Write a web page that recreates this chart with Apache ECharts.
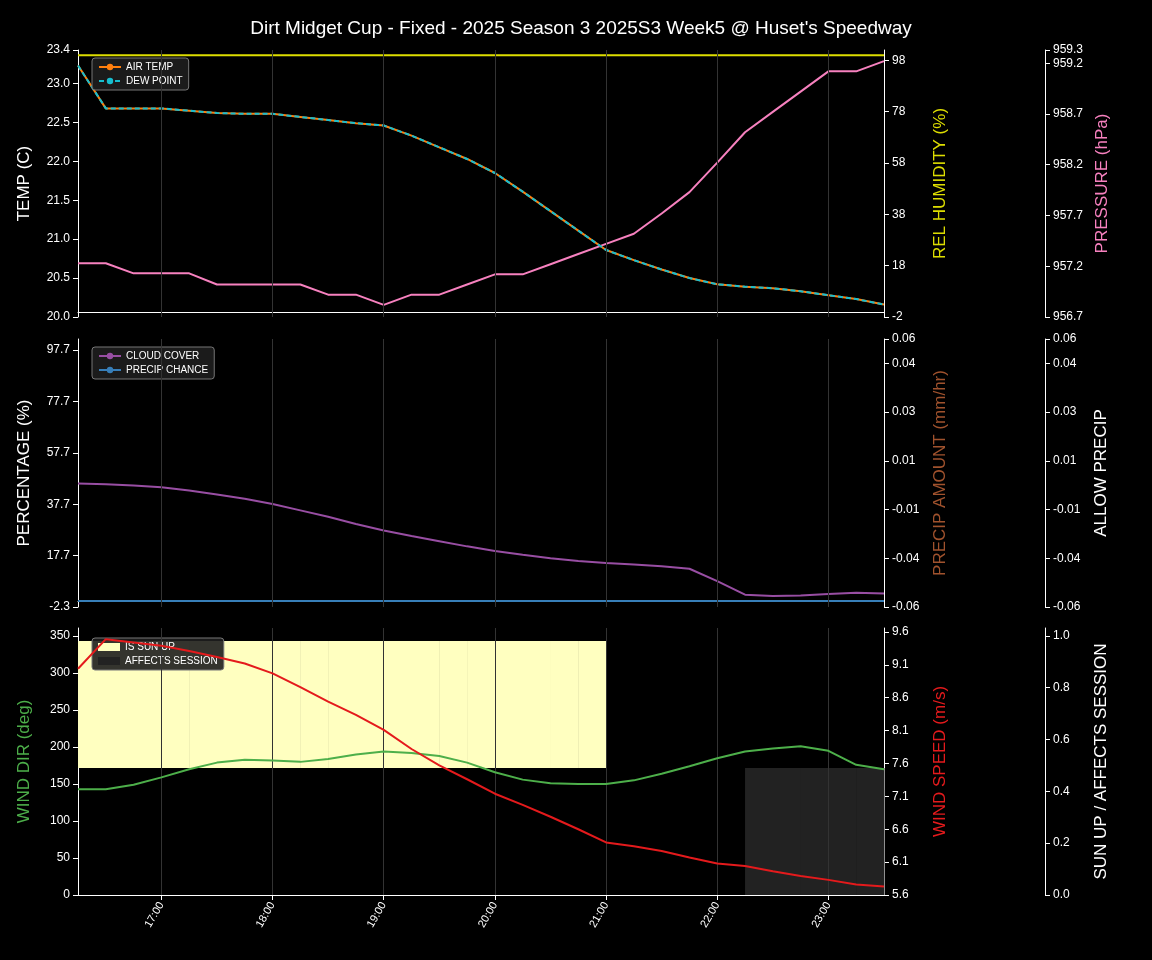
<!DOCTYPE html>
<html><head><meta charset="utf-8">
<script src="https://cdn.jsdelivr.net/npm/echarts@6/dist/echarts.min.js"></script>
<style>html,body{margin:0;background:#000}#c{width:1152px;height:960px}</style>
</head><body><div id="c"></div>
<script>
// times in minutes of day, 16:15 .. 23:30 every 15 min
const times = [975,990,1005,1020,1035,1050,1065,1080,1095,1110,1125,1140,1155,1170,1185,1200,1215,1230,1245,1260,1275,1290,1305,1320,1335,1350,1365,1380,1395,1410];
const airTemp = [23.2,22.65,22.65,22.65,22.62,22.59,22.58,22.58,22.54,22.5,22.46,22.43,22.3,22.15,22.0,21.82,21.58,21.33,21.08,20.83,20.7,20.58,20.47,20.39,20.36,20.34,20.3,20.25,20.2,20.13];
const dewPoint = airTemp.slice();
const relHumidity = [100,100,100,100,100,100,100,100,100,100,100,100,100,100,100,100,100,100,100,100,100,100,100,100,100,100,100,100,100,100];
const pressure = [957.21,957.21,957.11,957.11,957.11,957.0,957.0,957.0,957.0,956.9,956.9,956.8,956.9,956.9,957.0,957.1,957.1,957.2,957.3,957.4,957.5,957.7,957.91,958.2,958.5,958.7,958.9,959.1,959.1,959.2];
const cloudCover = [45.8,45.5,45,44.3,43,41.5,39.8,37.8,35.3,32.8,30,27.5,25.3,23.3,21.3,19.5,18,16.7,15.6,14.8,14.2,13.6,12.6,7.8,2.5,2.0,2.2,2.8,3.2,3.0];
const precipChance = [0,0,0,0,0,0,0,0,0,0,0,0,0,0,0,0,0,0,0,0,0,0,0,0,0,0,0,0,0,0];
const windDir = [143,143,149,159,170,179,183,182,180,184,190,194,192,188,179,166,156,151,150,150,155,164,174,185,194,198,201,195,176,170];
const windSpeed = [9.0,9.45,9.4,9.35,9.27,9.18,9.08,8.93,8.72,8.5,8.3,8.07,7.78,7.53,7.32,7.1,6.93,6.75,6.56,6.36,6.3,6.23,6.13,6.04,6.0,5.92,5.85,5.79,5.72,5.69];
const sunUp =    [1,1,1,1,1,1,1,1,1,1,1,1,1,1,1,1,1,1,1,0,0,0,0,0,0,0,0,0,0,0];
const affects =  [0,0,0,0,0,0,0,0,0,0,0,0,0,0,0,0,0,0,0,0,0,0,0,0,1,1,1,1,1,0];
const hourTicks = [1020,1080,1140,1200,1260,1320,1380];

const pair = a => times.map((t,i)=>[t,a[i]]);
const W = '#fff';
function xAxis(i, labels){
  return {type:'value',gridIndex:i,min:975,max:1410,
    axisLine:{lineStyle:{color:W}},
    axisTick:{show:true,customValues:hourTicks,lineStyle:{color:W}},
    axisLabel:{show:labels,customValues:hourTicks,color:W,rotate:60,fontSize:11,
      formatter:v=>String(Math.floor(v/60)).padStart(2,'0')+':00'},
    splitLine:{show:false}};
}
function yAxis(i,pos,offset,name,color,min,max,interval,fmt){
  return {type:'value',gridIndex:i,position:pos,offset:offset,name:name,nameLocation:'middle',
    nameGap:pos==='left'?45:48,nameTextStyle:{color:color,fontSize:17},
    min:min,max:max,interval:interval,
    axisLine:{show:true,lineStyle:{color:W}},axisTick:{show:true,lineStyle:{color:W}},
    axisLabel:{color:W,fontSize:12,formatter:fmt,showMinLabel:true},splitLine:{show:false}};
}
const f1=v=>v.toFixed(1), f2=v=>v.toFixed(2), f0=v=>String(v);
function rectSeries(name,flags,lo,hi,color,xi,yi){
  return {type:'custom',name:name,xAxisIndex:xi,yAxisIndex:yi,
    data:times.map((t,i)=>[t,flags[i]]),
    itemStyle:{color:color},
    renderItem:(p,api)=>{
      if(!api.value(1)) return null;
      const a=api.coord([api.value(0),hi]), b=api.coord([api.value(0)+15,lo]);
      return {type:'rect',shape:{x:a[0],y:a[1],width:b[0]-a[0]+0.5,height:b[1]-a[1]},style:{fill:color}};
    }};
}
const grids=[{left:78,right:268,top:50,height:267},{left:78,right:268,top:339,height:268},{left:78,right:268,top:628,height:267}];
const vlines = i => ({type:'line',xAxisIndex:i,yAxisIndex:i*3,data:[],silent:true,
   markLine:{silent:true,symbol:'none',label:{show:false},lineStyle:{color:'#333',type:'solid',width:1},data:hourTicks.map(h=>({xAxis:h}))}});
const legendStyle={backgroundColor:'rgba(30,30,30,0.9)',borderColor:'#777',borderWidth:1,borderRadius:3,
  textStyle:{color:W,fontSize:10},orient:'vertical',itemWidth:22,itemHeight:8,itemGap:4,padding:[4,6]};
const opt={
  backgroundColor:'#000',animation:false,
  title:{text:"Dirt Midget Cup - Fixed - 2025 Season 3 2025S3 Week5 @ Huset's Speedway",left:576,textAlign:'center',top:14,
    textStyle:{color:W,fontSize:19,fontWeight:'normal'}},
  grid:grids,
  legend:[
    Object.assign({data:['AIR TEMP','DEW POINT'],left:92,top:58},legendStyle),
    Object.assign({data:['CLOUD COVER','PRECIP CHANCE'],left:92,top:347},legendStyle),
    Object.assign({data:[{name:'IS SUN UP',icon:'rect'},{name:'AFFECTS SESSION',icon:'rect'}],left:92,top:638},legendStyle)
  ],
  xAxis:[xAxis(0,false),xAxis(1,false),xAxis(2,true)],
  yAxis:[
    yAxis(0,'left',0,'TEMP (C)',W,19.97,23.4,0.5,f1),
    yAxis(0,'right',0,'REL HUMIDITY (%)','#dddd00',-2,102,20,f0),
    yAxis(0,'right',161,'PRESSURE (hPa)','#f781bf',956.68,959.31,0.5,f1),
    yAxis(1,'left',0,'PERCENTAGE (%)',W,-2.3,102,20,f0),
    yAxis(1,'right',0,'PRECIP AMOUNT (mm/hr)','#a0522d',-0.055,0.055,0.02,f2),
    yAxis(1,'right',161,'ALLOW PRECIP',W,-0.055,0.055,0.02,f2),
    yAxis(2,'left',0,'WIND DIR (deg)','#4daf4a',0,361,50,f0),
    yAxis(2,'right',0,'WIND SPEED (m/s)','#e41a1c',5.56,9.62,0.5,f1),
    yAxis(2,'right',161,'SUN UP / AFFECTS SESSION',W,0,1.03,0.2,f1)
  ],
  series:[
    vlines(0),vlines(1),vlines(2),
    {name:'REL HUMIDITY',type:'line',xAxisIndex:0,yAxisIndex:1,data:pair(relHumidity),symbol:'none',lineStyle:{color:'#dddd00',width:2},itemStyle:{color:'#dddd00'}},
    {name:'PRESSURE',type:'line',xAxisIndex:0,yAxisIndex:2,data:pair(pressure),symbol:'none',lineStyle:{color:'#f781bf',width:2},itemStyle:{color:'#f781bf'}},
    {name:'AIR TEMP',type:'line',xAxisIndex:0,yAxisIndex:0,data:pair(airTemp),symbol:'none',lineStyle:{color:'#ff7f0e',width:2},itemStyle:{color:'#ff7f0e'}},
    {name:'DEW POINT',type:'line',xAxisIndex:0,yAxisIndex:0,data:pair(dewPoint),symbol:'none',lineStyle:{color:'#17becf',width:2,type:[5,3]},itemStyle:{color:'#17becf'}},
    {name:'CLOUD COVER',type:'line',xAxisIndex:1,yAxisIndex:3,data:pair(cloudCover),symbol:'none',lineStyle:{color:'#984ea3',width:2},itemStyle:{color:'#984ea3'}},
    {name:'PRECIP CHANCE',type:'line',xAxisIndex:1,yAxisIndex:3,data:pair(precipChance),symbol:'none',lineStyle:{color:'#377eb8',width:2},itemStyle:{color:'#377eb8'}},
    rectSeries('IS SUN UP',sunUp,0.49,0.98,'#ffffc0',2,8),
    rectSeries('AFFECTS SESSION',affects,0,0.49,'#222222',2,8),
    {name:'WIND DIR',type:'line',xAxisIndex:2,yAxisIndex:6,data:pair(windDir),symbol:'none',lineStyle:{color:'#4daf4a',width:2},itemStyle:{color:'#4daf4a'},z:5},
    {name:'WIND SPEED',type:'line',xAxisIndex:2,yAxisIndex:7,data:pair(windSpeed),symbol:'none',lineStyle:{color:'#e41a1c',width:2},itemStyle:{color:'#e41a1c'},z:5}
  ]
};
echarts.init(document.getElementById('c')).setOption(opt);
</script></body></html>
